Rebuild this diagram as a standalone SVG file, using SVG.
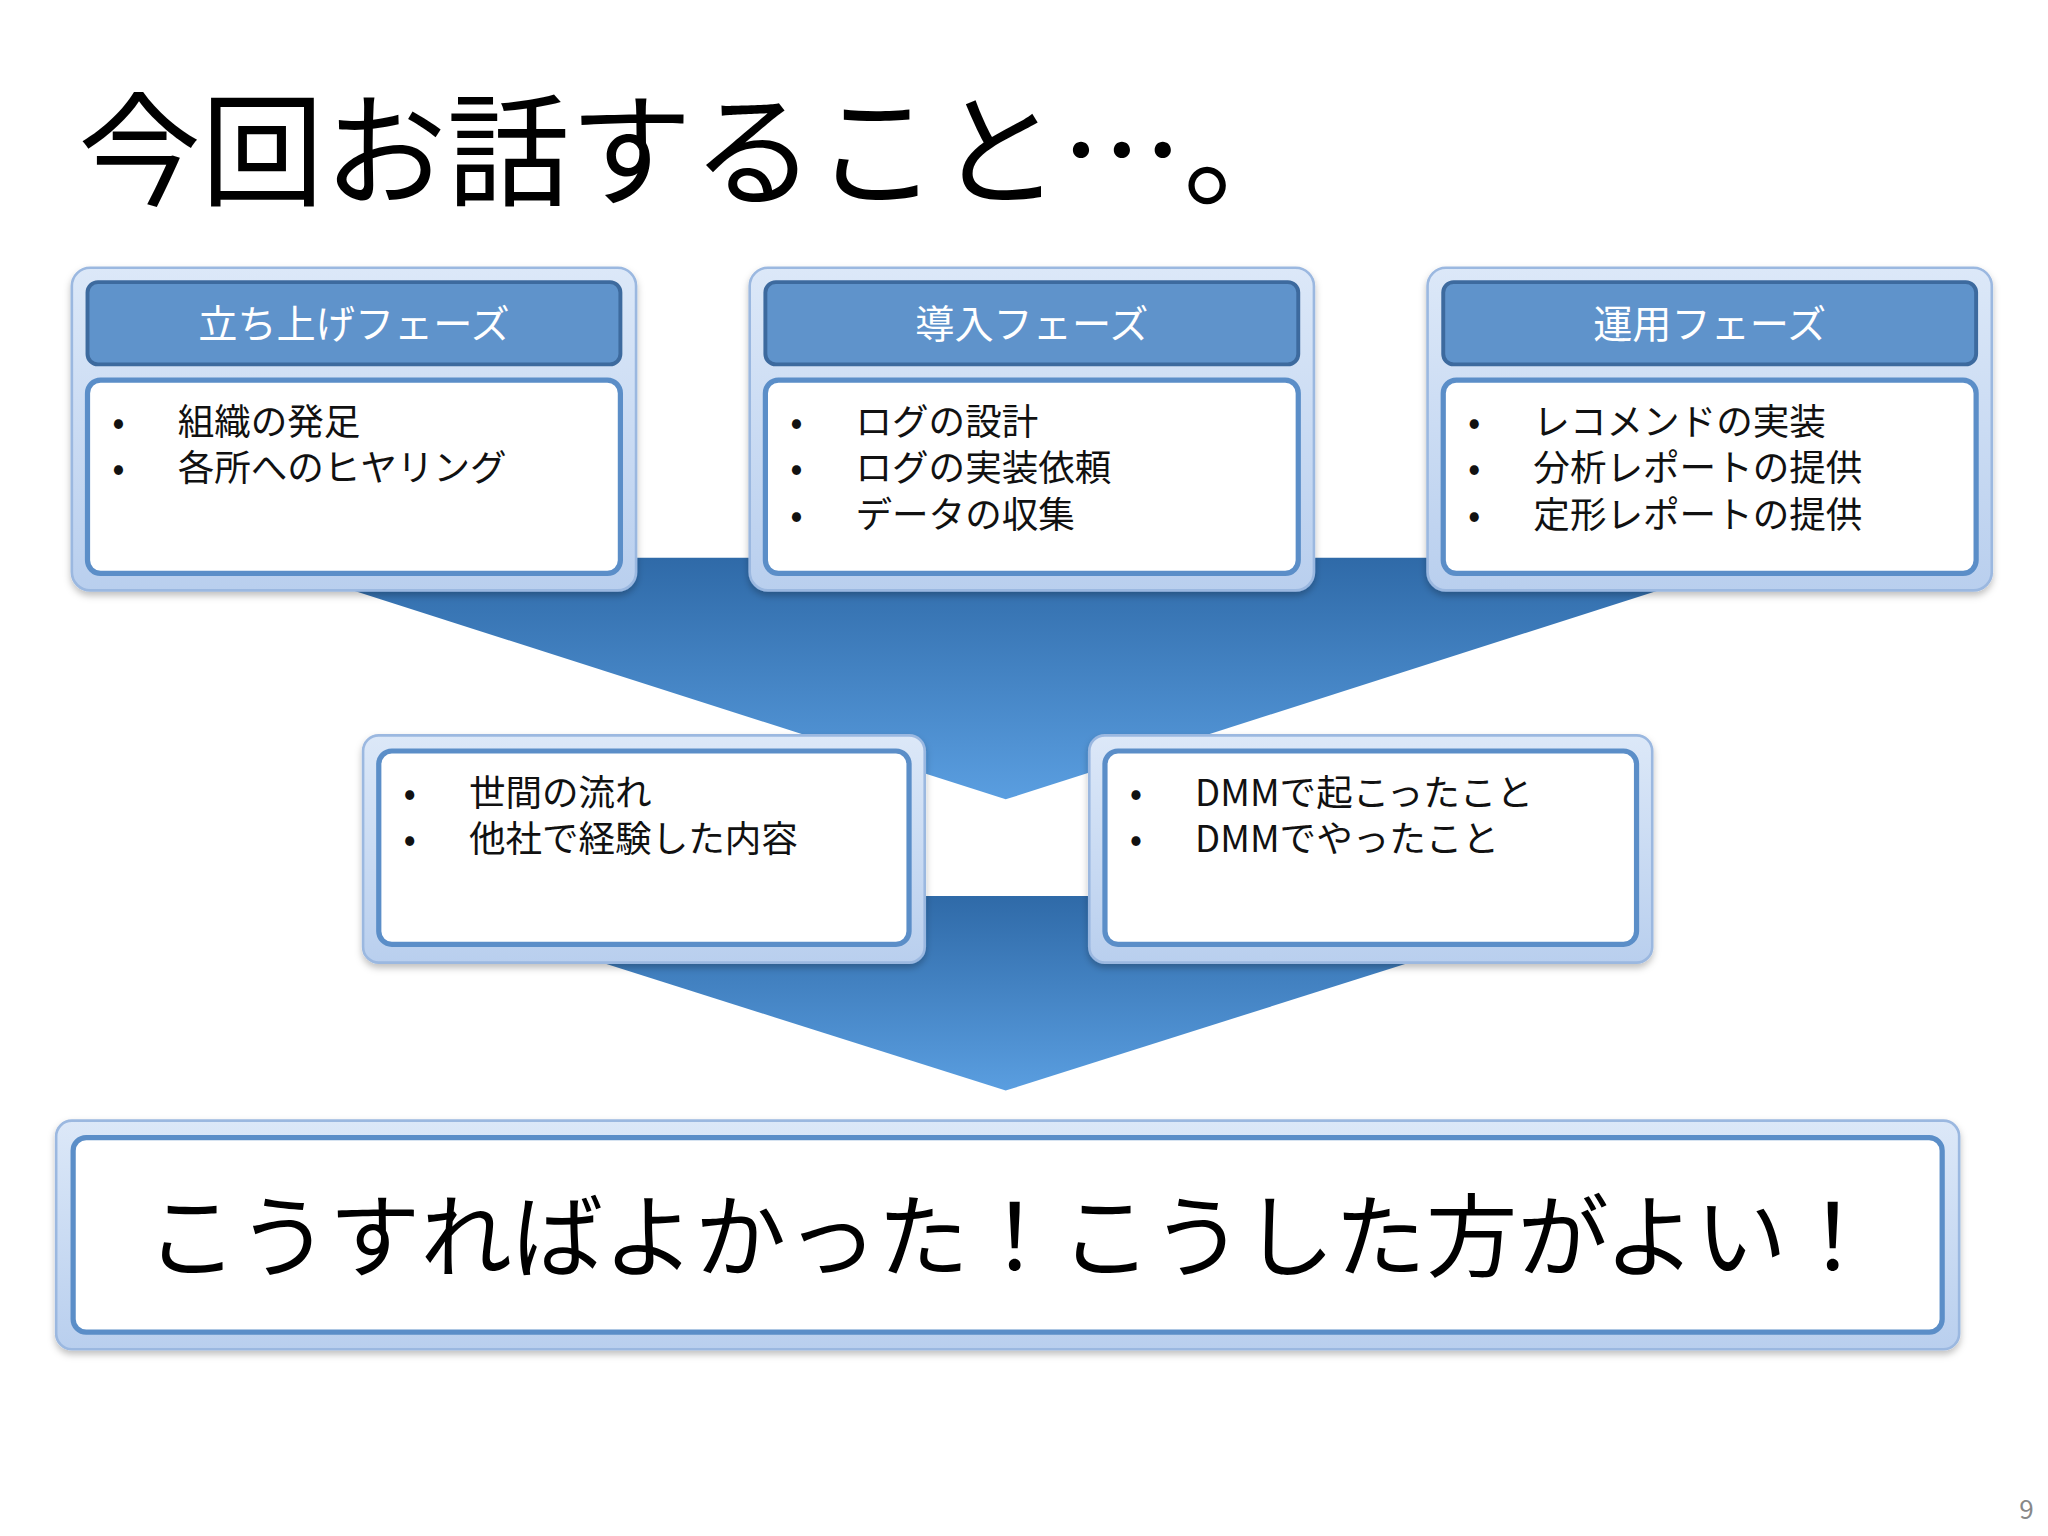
<svg xmlns="http://www.w3.org/2000/svg" width="2048" height="1536" viewBox="0 0 2048 1536">
<defs>
<linearGradient id="fun" x1="0" y1="0" x2="0" y2="1"><stop offset="0" stop-color="#2f6aa8"/><stop offset="1" stop-color="#5a9ee0"/></linearGradient>
<linearGradient id="frame" x1="0" y1="0" x2="0" y2="1"><stop offset="0" stop-color="#dce8f8"/><stop offset="1" stop-color="#b9cfee"/></linearGradient>
<filter id="sh" x="-5%" y="-5%" width="110%" height="120%"><feDropShadow dx="0" dy="3" stdDeviation="3" flood-color="#000" flood-opacity="0.25"/></filter>
<style>
text{font-family:"Noto Sans CJK JP","Noto Sans",sans-serif;}
.outer{fill:url(#frame);stroke:#9bb8e0;stroke-width:2;filter:url(#sh)}
.head{fill:#5f93cb;stroke:#3d6a9e;stroke-width:3}
.inner{fill:#fff;stroke:#5b8ec8;stroke-width:4}
.ht{fill:#fff;font-size:30px;text-anchor:middle}
.bt{fill:#111;font-size:28px}
</style>
</defs>
<rect width="2048" height="1536" fill="#fff"/>
<g transform="scale(1.3061)">
<text x="60" y="150" font-size="94" fill="#000">今回お話すること…。</text>
<g id="connectors">
<polygon points="192,427 1348,427 770,612" fill="url(#fun)"/>
<polygon points="300,686 1240,686 770,835" fill="url(#fun)"/>
</g>
<g id="n1"><rect class="outer" x="55" y="205" width="432" height="247" rx="14"/>
<rect class="head" x="67" y="216" width="408" height="63" rx="8"/><text class="ht" x="271" y="259">立ち上げフェーズ</text>
<rect class="inner" x="67" y="291" width="408" height="148" rx="10"/>
<text class="bt" x="86" y="333">•</text><text class="bt" x="136" y="333">組織の発足</text>
<text class="bt" x="86" y="368">•</text><text class="bt" x="136" y="368">各所へのヒヤリング</text></g>
<g id="n2"><rect class="outer" x="574" y="205" width="432" height="247" rx="14"/>
<rect class="head" x="586" y="216" width="408" height="63" rx="8"/><text class="ht" x="790" y="259">導入フェーズ</text>
<rect class="inner" x="586" y="291" width="408" height="148" rx="10"/>
<text class="bt" x="605" y="333">•</text><text class="bt" x="655" y="333">ログの設計</text>
<text class="bt" x="605" y="368">•</text><text class="bt" x="655" y="368">ログの実装依頼</text>
<text class="bt" x="605" y="404">•</text><text class="bt" x="655" y="404">データの収集</text></g>
<g id="n3"><rect class="outer" x="1093" y="205" width="432" height="247" rx="14"/>
<rect class="head" x="1105" y="216" width="408" height="63" rx="8"/><text class="ht" x="1309" y="259">運用フェーズ</text>
<rect class="inner" x="1105" y="291" width="408" height="148" rx="10"/>
<text class="bt" x="1124" y="333">•</text><text class="bt" x="1174" y="333">レコメンドの実装</text>
<text class="bt" x="1124" y="368">•</text><text class="bt" x="1174" y="368">分析レポートの提供</text>
<text class="bt" x="1124" y="404">•</text><text class="bt" x="1174" y="404">定形レポートの提供</text></g>
<g id="n4"><rect class="outer" x="278" y="563" width="430" height="174" rx="12"/>
<rect class="inner" x="290" y="575" width="406" height="148" rx="10"/>
<text class="bt" x="309" y="617">•</text><text class="bt" x="359" y="617">世間の流れ</text>
<text class="bt" x="309" y="652">•</text><text class="bt" x="359" y="652">他社で経験した内容</text></g>
<g id="n5"><rect class="outer" x="834" y="563" width="431" height="174" rx="12"/>
<rect class="inner" x="846" y="575" width="407" height="148" rx="10"/>
<text class="bt" x="865" y="617">•</text><text class="bt" x="915" y="617">DMMで起こったこと</text>
<text class="bt" x="865" y="652">•</text><text class="bt" x="915" y="652">DMMでやったこと</text></g>
<g id="n6"><rect class="outer" x="43" y="858" width="1457" height="175" rx="12"/>
<rect class="inner" x="56" y="871" width="1431" height="149" rx="10"/>
<text x="112" y="972" font-size="70" fill="#000">こうすればよかった！こうした方がよい！</text></g>
<text x="1546" y="1163" font-size="20" fill="#888" font-family="Liberation Sans,sans-serif">9</text>
</g>
</svg>
